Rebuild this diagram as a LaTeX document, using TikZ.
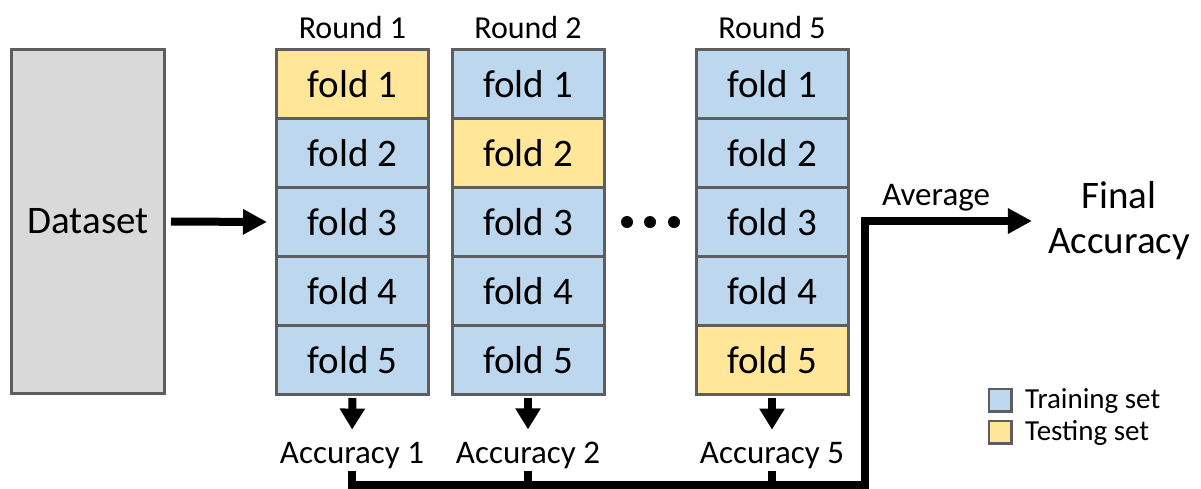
\documentclass[tikz,border=0pt]{standalone}
\usepackage{fontspec}
\setmainfont{Carlito}
\usetikzlibrary{arrows.meta}
\definecolor{trainblue}{HTML}{BDD7EE}
\definecolor{testyellow}{HTML}{FFE699}
\definecolor{datagray}{HTML}{D9D9D9}
\definecolor{edgegray}{HTML}{5E5E5E}
\begin{document}
\begin{tikzpicture}[x=1pt,y=-1pt,
  cell/.style={draw=edgegray, line width=3pt, minimum width=152pt, minimum height=69pt,
    inner sep=0pt, font=\fontsize{39}{47}\selectfont},
  train/.style={cell, fill=trainblue},
  test/.style={cell, fill=testyellow},
  roundlbl/.style={inner sep=0pt, anchor=base, font=\fontsize{32}{38}\selectfont},
  acclbl/.style={inner sep=0pt, anchor=base, font=\fontsize{33}{40}\selectfont},
  leglbl/.style={inner sep=0pt, anchor=base west, font=\fontsize{29}{35}\selectfont},
  legbox/.style={draw=edgegray, line width=2.5pt, minimum size=22.5pt, inner sep=0pt},
  bigarrow/.style={line width=8pt, -{Triangle[length=24pt,width=24pt]}},
  downarrow/.style={line width=8pt, -{Triangle[length=21pt,width=24pt]}},
  flow/.style={line width=8pt, line join=miter},
  dot/.style={circle, fill=black, minimum size=12pt, inner sep=0pt}
]
\useasboundingbox (0,0) rectangle (1201,488);

% dataset
\node[draw=edgegray, fill=datagray, line width=3pt, minimum width=153pt, minimum height=344pt,
  inner sep=0pt, font=\fontsize{39}{47}\selectfont] (ds) at (88,221.5) {Dataset};

% Round 1
\node[test]  (f11) at (352.5,84)  {fold 1};
\node[train] (f12) at (352.5,153) {fold 2};
\node[train] (f13) at (352.5,222) {fold 3};
\node[train] (f14) at (352.5,291) {fold 4};
\node[train] (f15) at (352.5,360) {fold 5};
% Round 2
\node[train] (f21) at (528,84)  {fold 1};
\node[train] (f23) at (528,222) {fold 3};
\node[train] (f24) at (528,291) {fold 4};
\node[train] (f25) at (528,360) {fold 5};
\node[test]  (f22) at (528,153) {fold 2};
% Round 5
\node[train] (f51) at (772,84)  {fold 1};
\node[train] (f52) at (772,153) {fold 2};
\node[train] (f53) at (772,222) {fold 3};
\node[train] (f54) at (772,291) {fold 4};
\node[test]  (f55) at (772,360) {fold 5};

% round labels
\node[roundlbl] (r1) at (352.5,38) {Round 1};
\node[roundlbl] (r2) at (528,38) {Round 2};
\node[roundlbl] (r5) at (772,38) {Round 5};

% dots
\node[dot] (d1) at (627,222) {};
\node[dot] (d2) at (650,222) {};
\node[dot] (d3) at (674,222) {};

% accuracy labels
\node[acclbl] (a1) at (352,463) {Accuracy 1};
\node[acclbl] (a2) at (528,463) {Accuracy 2};
\node[acclbl] (a5) at (772,463) {Accuracy 5};

% final
\node[inner sep=0pt, align=center, font=\fontsize{39}{45}\selectfont] (fa) at (1119,221) {Final\\Accuracy};
\node[acclbl] (avg) at (936,205) {Average};

% legend
\node[legbox, fill=trainblue]  (lt) at (1000,400) {};
\node[legbox, fill=testyellow] (ls) at (1000,432) {};
\node[leglbl] (ltt) at (1025,408) {Training set};
\node[leglbl] (lst) at (1025,440) {Testing set};

% arrows
\draw[bigarrow, shorten <=5pt, shorten >=8pt] (ds.east) -- (f13.west);
\draw[downarrow, shorten <=2pt, shorten >=12pt] (f15.south) -- (a1.north);
\draw[downarrow, shorten <=2pt, shorten >=12pt] (f25.south) -- (a2.north);
\draw[downarrow, shorten <=2pt, shorten >=12pt] (f55.south) -- (a5.north);

\coordinate (turn) at (865,485);
\draw[flow, shorten <=2pt] (a2.south) -- (a2.south |- turn);
\draw[flow, shorten <=2pt] (a5.south) -- (a5.south |- turn);
\draw[flow, shorten <=2pt, shorten >=16pt, -{Triangle[length=24pt,width=24pt]}]
  (a1.south) -- (a1.south |- turn) -- (turn) -- (turn |- fa.west) -- (fa.west);
\end{tikzpicture}
\end{document}
